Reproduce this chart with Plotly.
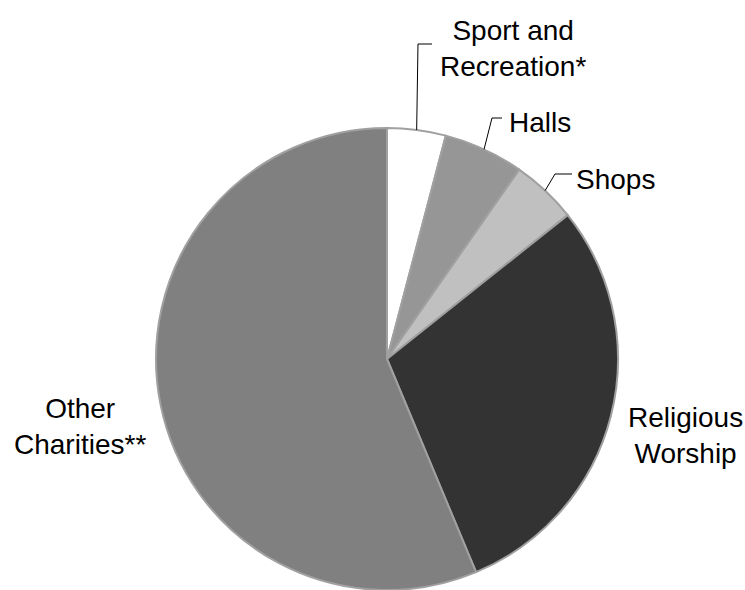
import plotly.graph_objects as go
import math

W, H = 745, 590

categories = ["Sport and Recreation*", "Halls", "Shops", "Religious Worship", "Other Charities**"]
values = [4.1, 5.6, 4.6, 29.4, 56.3]
colors = ["#ffffff", "#969696", "#c0c0c0", "#333333", "#808080"]
label_texts = ["Sport and<br>Recreation*", "Halls", "Shops", "Religious<br>Worship", "Other<br>Charities**"]

# pie geometry (pixels)
CX, CY, R = 387, 359, 231
TOP = CY - R

fig = go.Figure(go.Pie(
    labels=categories,
    values=values,
    sort=False,
    direction="clockwise",
    rotation=0,
    marker=dict(colors=colors, line=dict(color="#a0a0a0", width=2)),
    textinfo="none",
    hoverinfo="label+percent",
    showlegend=False,
    domain=dict(x=[(CX - R) / W, (CX + R) / W], y=[0, 1 - TOP / H]),
))

def px(x, y):
    return x / W, 1 - y / H

# label positions (pixel centres) and leader-line elbows
label_pos = [(513, 48), (540, 123), (615, 179), (685, 435), (80, 426)]
leaders = {0: [(418, 44), (432, 44)], 1: [(492, 118), (502, 118)], 2: [(555, 174), (572, 174)]}

total = sum(values)
cum = 0
shapes = []
annotations = []
for i, v in enumerate(values):
    mid = (cum + v / 2) / total * 2 * math.pi
    cum += v
    if i in leaders:
        sx = CX + R * math.sin(mid)
        sy = CY - R * math.cos(mid)
        pts = [(sx, sy)] + leaders[i]
        path = "M " + " L ".join(f"{px(a, b)[0]:.5f},{px(a, b)[1]:.5f}" for a, b in pts)
        shapes.append(dict(type="path", xref="paper", yref="paper", path=path,
                           line=dict(color="black", width=1)))
    lx, ly = px(*label_pos[i])
    annotations.append(dict(x=lx, y=ly, xref="paper", yref="paper", text=label_texts[i],
                            showarrow=False, xanchor="center", yanchor="middle", align="center",
                            font=dict(family="Liberation Sans, Arial, sans-serif", size=28, color="black")))

fig.update_layout(
    width=W, height=H,
    margin=dict(l=0, r=0, t=0, b=0),
    paper_bgcolor="white", plot_bgcolor="white",
    shapes=shapes, annotations=annotations,
)

fig.write_html("out.html")
